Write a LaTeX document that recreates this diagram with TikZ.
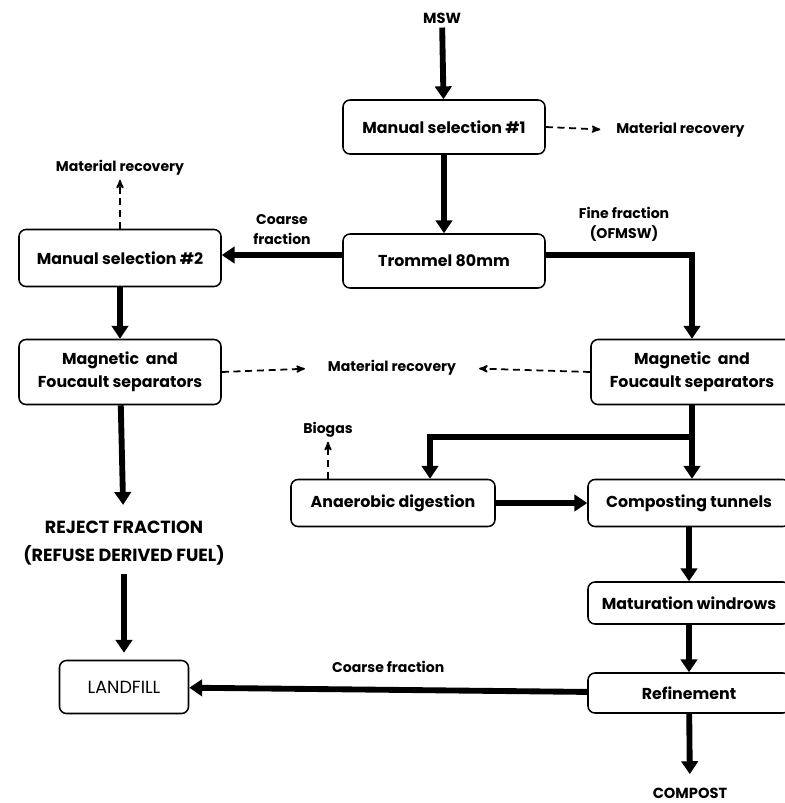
\documentclass[tikz,border=0pt]{standalone}
\usepackage{fontspec}
\setmainfont{Poppins}
\usetikzlibrary{arrows,arrows.meta,positioning}

\begin{document}
\begin{tikzpicture}[x=0.03cm,y=-0.03cm,>=stealth',semithick]
  \tikzstyle{box}=[draw=black,line width=1.3pt,rounded corners=6pt,fill=white,text=black,align=center,
                   font=\bfseries\fontsize{13.5}{20}\selectfont,minimum width=6.06cm,minimum height=1.62cm,inner sep=2pt]
  \tikzstyle{lbl}=[align=center,font=\bfseries\fontsize{12.5}{25}\selectfont]
  \tikzstyle{small}=[align=center,font=\bfseries\fontsize{12}{17}\selectfont]
  \tikzstyle{flow}=[-{Triangle[length=11pt,width=14pt]},line width=5pt]
  \tikzstyle{recov}=[->,line width=1.5pt,dash pattern=on 6pt off 4pt]
  \useasboundingbox (0,0) rectangle (785,803);
  % main line
  \node[lbl]  (msw)   at (442,18)  {MSW};
  \node[box]  (sel1)  at (444,127) {Manual selection \#1};
  \node[small,anchor=west] (rec1) at (612,130) {Material recovery};
  \node[box]  (trom)  at (444,261) {Trommel 80mm};
  % coarse branch
  \node[box,minimum height=1.71cm] (sel2) at (120,258) {Manual selection \#2};
  \node[small] (rec2) at (120,168) {Material recovery};
  \node[box,minimum height=1.95cm] (magL) at (120,372) {Magnetic\ \ and\\Foucault separators};
  \node[small] (rec3) at (392,368) {Material recovery};
  \node[lbl,font=\bfseries\fontsize{15}{24}\selectfont] (reject) at (124,543) {REJECT FRACTION\\(REFUSE DERIVED FUEL)};
  \node[box,font=\fontsize{15}{18}\selectfont,minimum width=3.87cm,minimum height=1.59cm] (land) at (124,687) {LANDFILL};
  % fine branch
  \node[small] (fine) at (624,224) {Fine fraction\\(OFMSW)};
  \node[box,minimum height=1.95cm] (magR) at (692,372) {Magnetic\ \ and\\Foucault separators};
  \node[box,minimum width=6.12cm,minimum height=1.41cm] (anaer) at (393,503) {Anaerobic digestion};
  \node[small] (biogas) at (328,430) {Biogas};
  \node[box,minimum height=1.41cm] (comp) at (689,503) {Composting tunnels};
  \node[box,minimum height=1.26cm] (matur) at (689,603) {Maturation windrows};
  \node[box,minimum height=1.2cm] (refin) at (689,693) {Refinement};
  \node[lbl]  (compost) at (690,793) {COMPOST};
  \coordinate (split) at (692,437);

  \draw[flow] (msw) -- (sel1);
  \draw[flow] (sel1) -- (trom);
  \draw[recov,shorten >=10pt] (sel1.east) -- (rec1.west);
  \draw[flow] ([yshift=0.18cm]trom.west) -- node[small,midway,above=3pt] {Coarse\\fraction} ([yshift=0.09cm]sel2.east);
  \draw[flow] ([yshift=0.18cm]trom.east) -| (magR.north);
  \draw[recov] (sel2.north) -- (rec2.south);
  \draw[flow] (sel2) -- (magL);
  \draw[recov,shorten >=16pt] (magL.east) -- (rec3.west);
  \draw[recov,shorten >=16pt] (magR.west) -- (rec3.east);
  \draw[flow,shorten >=10pt] (magL) -- (reject);
  \draw[flow,shorten <=4pt,shorten >=6pt] (reject) -- (land);
  \draw[line width=5pt] (magR.south) -- (split);
  \draw[flow] (split) -| ([xshift=1.11cm]anaer.north);
  \draw[flow] (split) -- (comp.north -| split);
  \draw[recov] (anaer.north -| biogas) -- (biogas);
  \draw[flow] (anaer) -- (comp);
  \draw[flow] (comp) -- (matur);
  \draw[flow] (matur) -- (refin);
  \draw[flow] (refin) -- node[small,midway,above=0.3cm] {Coarse fraction} (land);
  \draw[flow,shorten >=8pt] (refin) -- (compost);
\end{tikzpicture}
\end{document}
